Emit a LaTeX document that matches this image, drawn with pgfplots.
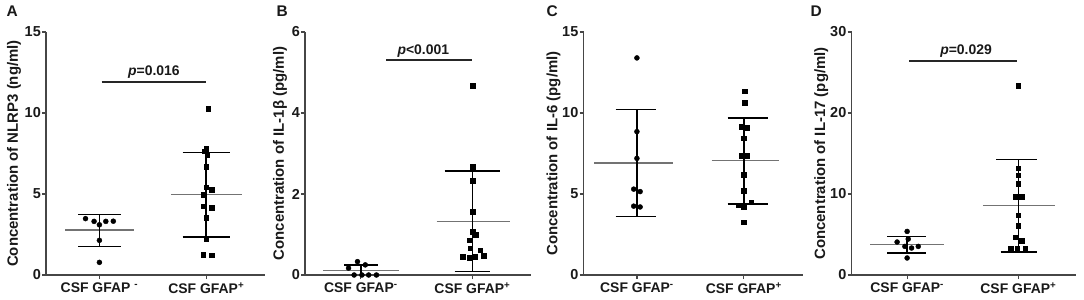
\documentclass[border=0pt]{standalone}
\usepackage{fontspec}
\setmainfont{Liberation Sans}
\usepackage{pgfplots}
\pgfplotsset{compat=1.18}
\definecolor{axgray}{RGB}{70,70,70}
\definecolor{meangray}{RGB}{115,115,115}
\definecolor{txt}{RGB}{25,25,25}
\pgfplotsset{
 panel/.style={
  scale only axis, height=243bp, ymin=0, xmin=-0.5,
  axis x line*=bottom, axis y line*=left,
  axis line style={draw=axgray, line width=1.2bp},
  every tick/.style={draw=axgray, line width=1.2bp},
  tick align=outside, major tick length=4bp,
  xtick={0,1}, clip=false,
  /pgf/number format/assume math mode=true,
  tick label style={font=\bfseries\fontsize{14.5}{16}\selectfont, text=txt},
  yticklabel style={inner sep=1bp},
  xticklabel style={font=\bfseries\fontsize{14}{16}\selectfont},
 },
 ylab/.style={every axis y label/.style={at={(axis description cs:#1,0.5)}, rotate=90, anchor=center, font=\bfseries\fontsize{15}{17}\selectfont, text=txt}},
 circ/.style={only marks, mark=*, mark size=2.5bp, black},
 sq/.style={only marks, mark=square*, mark size=2.3bp, black},
 meanl/.style={meangray, line width=1.2bp},
 errl/.style={black, line width=1.6bp},
 sigl/.style={black!85, line width=1.8bp},
}
\tikzset{plet/.style={anchor=base west, font=\bfseries\fontsize{15.5}{16}\selectfont, text=txt}}
\begin{document}
\begin{tikzpicture}
\useasboundingbox (0,0) rectangle (1084bp,300bp);
% ---------- A ----------
\node[plet] at (3bp,283bp) {A};
\begin{axis}[panel, at={(46bp,25bp)}, anchor=south west, width=219bp, xmax=1.55, ymax=15,
  ytick={0,5,10,15}, ylab=-0.146,
  xticklabels={CSF GFAP \textsuperscript{-}, CSF GFAP\textsuperscript{+}},
  ylabel={Concentration of NLRP3 (ng/ml)}]
\addplot[meanl] coordinates {(-0.32,2.78) (0.32,2.78)};
\addplot[errl] coordinates {(0,1.77) (0,3.74)};
\addplot[errl] coordinates {(-0.2,3.74) (0.2,3.74)};
\addplot[errl] coordinates {(-0.2,1.77) (0.2,1.77)};
\addplot[circ] coordinates {(-0.13,3.48) (-0.05,3.31) (0,3.1) (0.06,3.31) (0.13,3.32) (0,2.14) (0,0.78)};
\addplot[meanl] coordinates {(0.67,4.96) (1.33,4.96)};
\addplot[errl] coordinates {(1,2.33) (1,7.57)};
\addplot[errl] coordinates {(0.78,7.57) (1.22,7.57)};
\addplot[errl] coordinates {(0.78,2.33) (1.22,2.33)};
\addplot[sq] coordinates {(1.02,10.25) (1.0,7.8) (0.98,7.63) (1.01,7.43) (1.0,6.7) (1.0,5.41) (1.05,5.27) (0.97,4.96) (0.97,4.24) (1.05,4.14) (1.0,3.52) (1.0,2.22) (0.97,1.26) (1.05,1.21)};
\addplot[sigl] coordinates {(0.02,11.93) (1.0,11.93)};
\node[anchor=base, font=\bfseries\fontsize{14}{14}\selectfont, text=txt] at (axis cs:0.51,12.3) {\textit{p}=0.016};
\end{axis}
% ---------- B ----------
\node[plet] at (273bp,283bp) {B};
\begin{axis}[panel, at={(305bp,25bp)}, anchor=south west, width=225.5bp, xmax=1.52, ymax=6,
  ytick={0,2,4,6}, ylab=-0.111,
  xticklabels={CSF GFAP\textsuperscript{-}, CSF GFAP\textsuperscript{+}},
  ylabel={Concentration of IL-1β (pg/ml)}]
\addplot[meanl] coordinates {(-0.34,0.11) (0.34,0.11)};
\addplot[errl] coordinates {(0,0) (0,0.25)};
\addplot[errl] coordinates {(-0.15,0.25) (0.15,0.25)};
\addplot[circ] coordinates {(-0.11,0.17) (-0.03,0.33) (0.04,0.25) (-0.06,0.0) (0.01,0.0) (0.07,0.0) (0.14,0.0)};
\addplot[meanl] coordinates {(0.68,1.33) (1.34,1.33)};
\addplot[errl] coordinates {(1,0.09) (1,2.57)};
\addplot[errl] coordinates {(0.75,2.57) (1.25,2.57)};
\addplot[errl] coordinates {(0.84,0.09) (1.16,0.09)};
\addplot[sq] coordinates {(1.0,4.68) (1.0,2.68) (1.0,2.33) (1.0,1.56) (1.0,1.07) (1.03,1.0) (0.97,0.86) (0.98,0.66) (1.07,0.61) (0.91,0.45) (0.97,0.42) (1.02,0.45) (1.1,0.48)};
\addplot[sigl] coordinates {(0.23,5.31) (1.0,5.31)};
\node[anchor=base, font=\bfseries\fontsize{14}{14}\selectfont, text=txt] at (axis cs:0.56,5.45) {\textit{p}<0.001};
\end{axis}
% ---------- C ----------
\node[plet] at (543bp,283bp) {C};
\begin{axis}[panel, at={(583.5bp,25bp)}, anchor=south west, width=219bp, xmax=1.55, ymax=15,
  ytick={0,5,10,15}, ylab=-0.137,
  xticklabels={CSF GFAP\textsuperscript{-}, CSF GFAP\textsuperscript{+}},
  ylabel={Concentration of IL-6 (pg/ml)}]
\addplot[meanl] coordinates {(-0.4,6.91) (0.34,6.91)};
\addplot[errl] coordinates {(0,3.62) (0,10.22)};
\addplot[errl] coordinates {(-0.2,10.22) (0.18,10.22)};
\addplot[errl] coordinates {(-0.2,3.62) (0.18,3.62)};
\addplot[circ] coordinates {(0,13.4) (0,8.85) (0,7.2) (-0.03,5.3) (0.03,5.15) (-0.03,4.25) (0.03,4.2)};
\addplot[meanl] coordinates {(0.7,7.06) (1.33,7.06)};
\addplot[errl] coordinates {(1,4.4) (1,9.69)};
\addplot[errl] coordinates {(0.85,9.69) (1.23,9.69)};
\addplot[errl] coordinates {(0.85,4.4) (1.23,4.4)};
\addplot[sq] coordinates {(1.01,11.35) (1.01,10.65) (0.98,9.15) (1.03,9.1) (1.0,8.45) (0.98,7.35) (1.03,7.35) (1.0,6.2) (1.0,5.2) (1.07,4.5) (0.95,4.3) (1.0,4.22) (1.0,3.25)};
\end{axis}
% ---------- D ----------
\node[plet] at (807bp,283bp) {D};
\begin{axis}[panel, at={(851.5bp,25bp)}, anchor=south west, width=224.7bp, xmax=1.52, ymax=30,
  ytick={0,10,20,30}, ylab=-0.134,
  xticklabels={CSF GFAP\textsuperscript{-}, CSF GFAP\textsuperscript{+}},
  ylabel={Concentration of IL-17 (pg/ml)}]
\addplot[meanl] coordinates {(-0.33,3.74) (0.33,3.74)};
\addplot[errl] coordinates {(0,2.71) (0,4.77)};
\addplot[errl] coordinates {(-0.18,4.77) (0.17,4.77)};
\addplot[errl] coordinates {(-0.18,2.71) (0.17,2.71)};
\addplot[circ] coordinates {(0,5.38) (-0.09,4.07) (0.01,4.44) (-0.02,3.53) (0.04,3.33) (0.1,3.53) (0,2.1)};
\addplot[meanl] coordinates {(0.68,8.55) (1.33,8.55)};
\addplot[errl] coordinates {(1,2.84) (1,14.24)};
\addplot[errl] coordinates {(0.8,14.24) (1.17,14.24)};
\addplot[errl] coordinates {(0.84,2.84) (1.17,2.84)};
\addplot[sq] coordinates {(1.0,23.4) (1.0,13.2) (1.0,12.3) (1.0,11.27) (0.97,9.7) (1.03,9.7) (1.0,7.36) (1.0,6.12) (0.97,4.69) (1.03,4.23) (0.93,3.25) (0.99,3.25) (1.06,3.25)};
\addplot[sigl] coordinates {(0.02,26.46) (0.99,26.46)};
\node[anchor=base, font=\bfseries\fontsize{14}{14}\selectfont, text=txt] at (axis cs:0.53,27.2) {\textit{p}=0.029};
\end{axis}
\end{tikzpicture}
\end{document}
